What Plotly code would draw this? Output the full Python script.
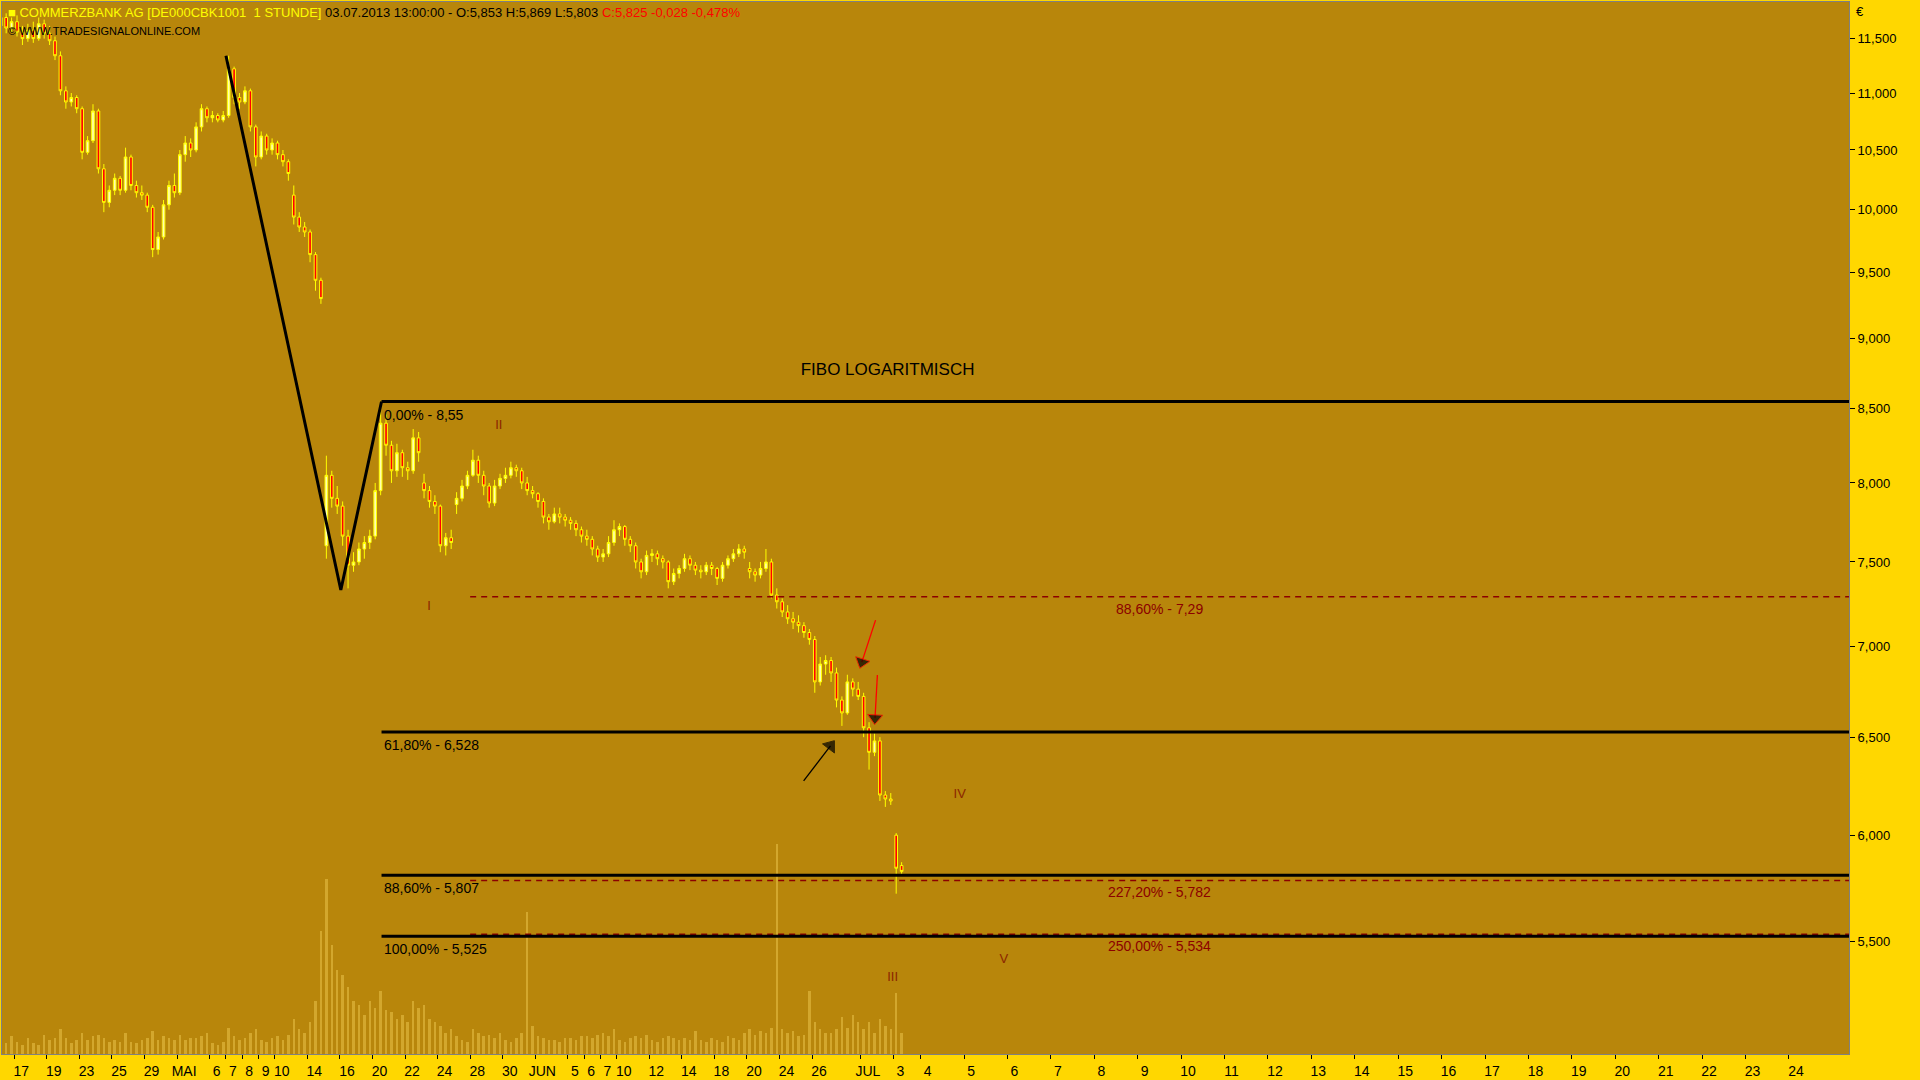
import numpy as np
import plotly.graph_objects as go
from datetime import datetime

# ---------------- data ----------------
trading_days = [
    "2013-04-16", "2013-04-17", "2013-04-18", "2013-04-19", "2013-04-22", "2013-04-23", "2013-04-24",
    "2013-04-25", "2013-04-26", "2013-04-29", "2013-04-30",
    "2013-05-02", "2013-05-03", "2013-05-06", "2013-05-07", "2013-05-08", "2013-05-09", "2013-05-10",
    "2013-05-13", "2013-05-14", "2013-05-15", "2013-05-16", "2013-05-17", "2013-05-20", "2013-05-21",
    "2013-05-22", "2013-05-23", "2013-05-24", "2013-05-27", "2013-05-28", "2013-05-29", "2013-05-30",
    "2013-05-31",
    "2013-06-03", "2013-06-04", "2013-06-05", "2013-06-06", "2013-06-07", "2013-06-10", "2013-06-11",
    "2013-06-12", "2013-06-13", "2013-06-14", "2013-06-17", "2013-06-18", "2013-06-19", "2013-06-20",
    "2013-06-21", "2013-06-24", "2013-06-25", "2013-06-26", "2013-06-27", "2013-06-28",
    "2013-07-01", "2013-07-02", "2013-07-03",
]

# three 3-hour candles per trading day (last day: two)
opens = [
    11.62, 11.70, 11.60,  11.66, 11.56, 11.50,  11.58, 11.50, 11.64,  11.55, 11.48, 11.34,
    11.02, 10.92, 10.96,  10.86, 10.48, 10.58,  10.84, 10.34, 10.06,  10.16, 10.26, 10.16,
    10.44, 10.20, 10.14,  10.12, 10.02, 9.68,   9.78, 10.04, 10.20,   10.14, 10.46, 10.56,
    10.50, 10.70, 10.86,  10.78, 10.80, 10.76,  10.80, 11.22, 10.96,  10.92, 11.02, 10.70,
    10.44, 10.62, 10.50,  10.56, 10.46, 10.40,  10.12, 9.94, 9.86,    9.82, 9.64, 9.44,
    7.60, 8.05, 7.90,     7.85, 7.66, 7.48,     7.50, 7.58, 7.62,     7.66, 7.95, 8.40,
    8.25, 8.08, 8.20,     8.10, 8.08, 8.30,     8.00, 7.95, 7.88,     7.85, 7.60, 7.65,
    7.86, 7.90, 7.98,     8.05, 8.15, 8.05,     7.98, 7.87, 7.98,     8.03, 8.05, 8.10,
    8.08, 8.00, 7.95,     7.93, 7.88, 7.78,     7.75, 7.80, 7.78,     7.76, 7.74, 7.70,
    7.66, 7.64, 7.58,     7.53, 7.55, 7.62,     7.70, 7.72, 7.64,     7.60, 7.50, 7.44,
    7.54, 7.55, 7.52,     7.50, 7.38, 7.43,     7.46, 7.52, 7.48,     7.45, 7.44, 7.48,
    7.46, 7.40, 7.48,     7.52, 7.55, 7.58,     7.46, 7.44, 7.42,     7.46, 7.50, 7.30,
    7.26, 7.20, 7.16,     7.14, 7.12, 7.08,     7.04, 6.80, 6.90,     6.92, 6.85, 6.70,
    6.63, 6.80, 6.76,     6.72, 6.55, 6.42,     6.48, 6.20, 6.18,     6.00, 5.853,
]
highs = [
    11.78, 11.74, 11.70,  11.72, 11.62, 11.64,  11.66, 11.70, 11.68,  11.62, 11.52, 11.38,
    11.06, 11.00, 10.98,  10.88, 10.62, 10.90,  10.86, 10.38, 10.20,  10.30, 10.28, 10.52,
    10.46, 10.24, 10.20,  10.14, 10.04, 9.82,   10.08, 10.24, 10.30,  10.50, 10.62, 10.60,
    10.74, 10.90, 10.88,  10.84, 10.82, 10.84,  11.34, 11.24, 11.00,  11.06, 11.04, 10.72,
    10.66, 10.64, 10.60,  10.58, 10.50, 10.42,  10.20, 9.98, 9.90,    9.84, 9.66, 9.46,
    8.18, 8.08, 7.98,     7.88, 7.70, 7.56,     7.62, 7.66, 7.70,     8.00, 8.55, 8.46,
    8.28, 8.26, 8.22,     8.14, 8.36, 8.34,     8.06, 7.98, 7.92,     7.86, 7.68, 7.70,
    7.94, 8.02, 8.08,     8.22, 8.18, 8.08,     8.00, 8.02, 8.06,     8.10, 8.14, 8.12,
    8.10, 8.04, 7.98,     7.94, 7.90, 7.80,     7.84, 7.84, 7.80,     7.78, 7.76, 7.72,
    7.70, 7.66, 7.60,     7.58, 7.66, 7.76,     7.74, 7.73, 7.66,     7.62, 7.52, 7.57,
    7.58, 7.57, 7.54,     7.51, 7.46, 7.48,     7.55, 7.54, 7.50,     7.48, 7.50, 7.50,
    7.47, 7.50, 7.54,     7.58, 7.61, 7.60,     7.50, 7.46, 7.50,     7.58, 7.52, 7.34,
    7.28, 7.24, 7.20,     7.18, 7.14, 7.10,     7.06, 6.94, 6.95,     6.94, 6.88, 6.72,
    6.84, 6.82, 6.80,     6.74, 6.58, 6.52,     6.50, 6.22, 6.21,     6.01, 5.869,
]
lows = [
    11.58, 11.55, 11.56,  11.52, 11.44, 11.47,  11.46, 11.48, 11.50,  11.44, 11.30, 10.98,
    10.86, 10.88, 10.82,  10.42, 10.46, 10.56,  10.30, 9.98, 10.02,   10.12, 10.12, 10.14,
    10.16, 10.10, 10.08,  9.98, 9.62, 9.64,     9.76, 10.00, 10.10,   10.12, 10.40, 10.44,
    10.48, 10.66, 10.74,  10.74, 10.74, 10.74,  10.78, 10.90, 10.86,  10.90, 10.66, 10.36,
    10.42, 10.46, 10.46,  10.42, 10.36, 10.24,  9.88, 9.82, 9.78,     9.58, 9.36, 9.26,
    7.52, 7.84, 7.80,     7.60, 7.34, 7.44,     7.48, 7.52, 7.58,     7.64, 7.92, 8.18,
    8.00, 8.04, 8.04,     8.02, 8.06, 8.14,     7.90, 7.84, 7.80,     7.56, 7.54, 7.58,
    7.80, 7.88, 7.96,     8.04, 8.00, 7.92,     7.84, 7.85, 7.96,     8.00, 8.03, 8.04,
    7.96, 7.92, 7.90,     7.84, 7.74, 7.70,     7.74, 7.74, 7.72,     7.70, 7.66, 7.62,
    7.60, 7.54, 7.50,     7.50, 7.53, 7.60,     7.66, 7.60, 7.56,     7.46, 7.40, 7.42,
    7.50, 7.48, 7.46,     7.34, 7.36, 7.40,     7.44, 7.45, 7.42,     7.40, 7.42, 7.42,
    7.36, 7.38, 7.46,     7.50, 7.53, 7.52,     7.40, 7.38, 7.40,     7.44, 7.28, 7.22,
    7.17, 7.13, 7.10,     7.08, 7.05, 7.01,     6.74, 6.78, 6.84,     6.80, 6.66, 6.56,
    6.62, 6.72, 6.70,     6.50, 6.33, 6.40,     6.17, 6.14, 6.15,     5.72, 5.803,
]
closes = [
    11.70, 11.60, 11.66,  11.56, 11.50, 11.58,  11.50, 11.64, 11.55,  11.48, 11.34, 11.02,
    10.92, 10.96, 10.86,  10.48, 10.58, 10.84,  10.34, 10.06, 10.16,  10.26, 10.16, 10.44,
    10.20, 10.14, 10.12,  10.02, 9.68, 9.78,    10.04, 10.20, 10.14,  10.46, 10.56, 10.50,
    10.70, 10.86, 10.78,  10.80, 10.76, 10.80,  11.22, 10.96, 10.92,  11.02, 10.70, 10.44,
    10.62, 10.50, 10.56,  10.46, 10.40, 10.30,  9.94, 9.86, 9.82,     9.64, 9.44, 9.30,
    8.05, 7.90, 7.85,     7.66, 7.48, 7.50,     7.58, 7.62, 7.66,     7.95, 8.40, 8.25,
    8.08, 8.20, 8.10,     8.08, 8.30, 8.20,     7.95, 7.88, 7.85,     7.60, 7.65, 7.62,
    7.90, 7.98, 8.05,     8.15, 8.05, 7.98,     7.87, 7.98, 8.03,     8.05, 8.10, 8.08,
    8.00, 7.95, 7.93,     7.88, 7.78, 7.75,     7.80, 7.78, 7.76,     7.74, 7.70, 7.66,
    7.64, 7.58, 7.53,     7.55, 7.62, 7.70,     7.72, 7.64, 7.60,     7.50, 7.44, 7.54,
    7.55, 7.52, 7.50,     7.38, 7.43, 7.46,     7.52, 7.48, 7.45,     7.44, 7.48, 7.46,
    7.40, 7.48, 7.52,     7.55, 7.58, 7.56,     7.44, 7.42, 7.46,     7.50, 7.30, 7.26,
    7.20, 7.16, 7.14,     7.12, 7.08, 7.04,     6.80, 6.90, 6.92,     6.85, 6.70, 6.63,
    6.80, 6.76, 6.72,     6.55, 6.42, 6.48,     6.20, 6.18, 6.17,     5.84, 5.825,
]
volumes = [
    8, 6, 10,   7, 5, 9,    6, 5, 11,   8, 9, 14,   9, 6, 8,    12, 8, 10,  11, 9, 7,
    8, 7, 12,   7, 6, 8,    9, 13, 8,   10, 9, 8,   11, 8, 9,   9, 10, 12,  6, 5, 7,
    15, 10, 8,  9, 12, 14,  8, 7, 9,    10, 8, 11,  20, 14, 12, 18, 30, 70,
    100, 62, 48, 45, 38, 30, 28, 22, 30, 26, 36, 25, 24, 20, 22, 18, 30, 26,
    28, 20, 18, 16, 12, 14, 10, 8, 7,   14, 12, 10, 11, 9, 12,  8, 7, 9,
    12, 81, 16, 10, 9, 8,   8, 7, 9,    9, 8, 10,   10, 9, 11,  12, 10, 14,
    8, 7, 9,    10, 9, 11,  8, 7, 9,    10, 9, 8,   9, 8, 13,   8, 7, 9,
    8, 7, 10,   9, 8, 12,   14, 11, 13, 12, 15, 120, 14, 12, 13, 10, 11, 36,
    18, 14, 12, 12, 14, 21, 15, 22, 18, 14, 18, 12, 20, 16, 14, 35, 12,
]

fib_levels = [8.55, 6.528, 5.807, 5.525]
fib_names = ["0,00%", "61,80%", "88,60%", "100,00%"]
ext_levels = [7.29, 5.782, 5.534]
ext_names = ["88,60%", "227,20%", "250,00%"]

zig_times = ["2013-05-07 09:00", "2013-05-16 09:30", "2013-05-20 14:00"]
zig_prices = [11.34, 7.33, 8.55]
ext_start = "2013-05-28 09:00"
ext_label_time = "2013-07-09 12:00"

wave_names = ["I", "II", "III", "IV", "V"]
wave_times = ["2013-05-23 13:15", "2013-05-29 15:50", "2013-07-02 17:30", "2013-07-04 21:36", "2013-07-05 22:00"]
wave_prices = [7.23, 8.38, 5.34, 6.20, 5.42]

fibo_title_time = "2013-07-02 14:45"
fibo_title_price = 8.77

arrows = [  # (tail time, tail price, tip time, tip price, line colour)
    ("2013-07-01 17:06", 7.152, "2013-07-01 09:30", 6.911, "#FF0000"),
    ("2013-07-02 09:06", 6.839, "2013-07-01 16:48", 6.602, "#FF0000"),
    ("2013-06-25 13:20", 6.272, "2013-06-27 10:10", 6.454, "#000000"),
]

tick_dates = [
    "2013-04-17", "2013-04-19", "2013-04-23", "2013-04-25", "2013-04-29", "2013-05-02", "2013-05-06",
    "2013-05-07", "2013-05-08", "2013-05-09", "2013-05-10", "2013-05-14", "2013-05-16", "2013-05-20",
    "2013-05-22", "2013-05-24", "2013-05-28", "2013-05-30", "2013-06-03", "2013-06-05", "2013-06-06",
    "2013-06-07", "2013-06-10", "2013-06-12", "2013-06-14", "2013-06-18", "2013-06-20", "2013-06-24",
    "2013-06-26", "2013-07-01", "2013-07-03", "2013-07-04", "2013-07-05", "2013-07-06", "2013-07-07",
    "2013-07-08", "2013-07-09", "2013-07-10", "2013-07-11", "2013-07-12", "2013-07-13", "2013-07-14",
    "2013-07-15", "2013-07-16", "2013-07-17", "2013-07-18", "2013-07-19", "2013-07-20", "2013-07-21",
    "2013-07-22", "2013-07-23", "2013-07-24",
]
tick_labels = [
    "17", "19", "23", "25", "29", "MAI", "6", "7", "8", "9", "10", "14", "16", "20", "22", "24", "28",
    "30", "JUN", "5", "6", "7", "10", "12", "14", "18", "20", "24", "26", "JUL", "3", "4", "5", "6",
    "7", "8", "9", "10", "11", "12", "13", "14", "15", "16", "17", "18", "19", "20", "21", "22", "23", "24",
]
price_ticks = [5.5, 6.0, 6.5, 7.0, 7.5, 8.0, 8.5, 9.0, 9.5, 10.0, 10.5, 11.0, 11.5]

# ---------------- helpers ----------------
BARS_PER_DAY = 9
day_index = {d: i for i, d in enumerate(trading_days)}
session_end = datetime(2013, 7, 3, 14, 0)
session_end_bar = (len(trading_days) - 2) * BARS_PER_DAY + 5


def to_bar(ts):
    if " " in ts:
        t = datetime.strptime(ts, "%Y-%m-%d %H:%M")
    elif ts in day_index:
        t = datetime.strptime(ts, "%Y-%m-%d").replace(hour=9)
    else:
        t = datetime.strptime(ts, "%Y-%m-%d")
    d = t.strftime("%Y-%m-%d")
    if d in day_index and t < session_end:
        return (day_index[d] - 1) * BARS_PER_DAY + (t.hour + t.minute / 60 - 9)
    return session_end_bar + (t - session_end).total_seconds() / 3600


def fmt(v):
    return str(v).replace(".", ",")


candle_x = [(i // 3 - 1) * BARS_PER_DAY + (i % 3) * 3 + 1.5 for i in range(len(closes))]

NARROW = "Liberation Sans Narrow, Liberation Sans, Arial, sans-serif"
SANS = "Liberation Sans, Arial, sans-serif"
DARKRED = "#8B0000"
WAVE = "#8B2500"
X_END = 1030

fig = go.Figure()

# volume (linear axis y)
fig.add_trace(go.Bar(x=candle_x, y=volumes, width=1.4,
                     marker=dict(color="rgba(238,200,80,0.5)", line=dict(width=0)),
                     yaxis="y", hoverinfo="skip"))

# candles (log axis y2)
fig.add_trace(go.Candlestick(
    x=candle_x, open=opens, high=highs, low=lows, close=closes, yaxis="y2",
    increasing=dict(line=dict(color="#FFFF00", width=1), fillcolor="#FFFFB0"),
    decreasing=dict(line=dict(color="#FFFF00", width=1), fillcolor="#FF0000"),
    whiskerwidth=0, hoverinfo="skip"))

# zigzag
fig.add_trace(go.Scatter(x=[to_bar(t) for t in zig_times], y=zig_prices, mode="lines", yaxis="y2",
                         line=dict(color="black", width=3), hoverinfo="skip"))

fib_x0 = to_bar(zig_times[-1])
ext_x0 = to_bar(ext_start)
for lvl in ext_levels:
    fig.add_trace(go.Scatter(x=[ext_x0, X_END], y=[lvl, lvl], mode="lines", yaxis="y2",
                             line=dict(color=DARKRED, width=1.5, dash="6px,5px"), hoverinfo="skip"))
for lvl in fib_levels:
    fig.add_trace(go.Scatter(x=[fib_x0, X_END], y=[lvl, lvl], mode="lines", yaxis="y2",
                             line=dict(color="black", width=3), hoverinfo="skip"))

# wave labels
fig.add_trace(go.Scatter(x=[to_bar(t) for t in wave_times], y=wave_prices, mode="text", yaxis="y2",
                         text=wave_names, textposition="middle center",
                         textfont=dict(family=NARROW, size=13, color=WAVE), hoverinfo="skip"))
fig.add_trace(go.Scatter(x=[to_bar(fibo_title_time)], y=[fibo_title_price], mode="text", yaxis="y2",
                         text=["FIBO LOGARITMISCH"], textposition="middle center",
                         textfont=dict(family=NARROW, size=17, color="black"), hoverinfo="skip"))

# arrows
for t0, p0, t1, p1, col in arrows:
    fig.add_trace(go.Scatter(x=[to_bar(t0), to_bar(t1)], y=[p0, p1], mode="lines+markers", yaxis="y2",
                             line=dict(color=col, width=1.3),
                             marker=dict(symbol="triangle-up", size=[0, 13], angleref="previous",
                                         color="black", line=dict(color=col, width=1)),
                             hoverinfo="skip"))

# header texts
o_, h_, l_, c_ = opens[-1], highs[-1], lows[-1], closes[-1]
chg = c_ - o_
pct = chg / o_ * 100
header = (
    '<span style="color:#FFFF00">■ COMMERZBANK AG [DE000CBK1001  1 STUNDE]</span> '
    f'<span style="color:#000000">03.07.2013 13:00:00 - O:{fmt(o_)} H:{fmt(h_)} L:{fmt(l_)}</span> '
    f'<span style="color:#FF0000">C:{fmt(c_)} {chg:.3f} {pct:.3f}%</span>'.replace("-0.", "-0,")
)
annotations = [
    dict(xref="paper", yref="paper", x=0.002, y=1, xanchor="left", yanchor="top", yshift=-1,
         text=header, showarrow=False, font=dict(family=NARROW, size=13, color="black")),
    dict(xref="paper", yref="paper", x=0.002, y=1, xanchor="left", yanchor="top", yshift=-21,
         text="© WWW.TRADESIGNALONLINE.COM", showarrow=False,
         font=dict(family=NARROW, size=11, color="black")),
    dict(xref="paper", yref="paper", x=1, y=1, xanchor="left", yanchor="top", xshift=5, yshift=0,
         text="€", showarrow=False, font=dict(family=SANS, size=13, color="black")),
]
# fibonacci level labels (annotations on log axis take log10 positions)
for n, v in zip(fib_names, fib_levels):
    annotations.append(dict(xref="x", yref="y2", x=fib_x0, y=np.log10(v), xanchor="left", yanchor="top",
                            yshift=-3, text=f"{n} - {fmt(v)}", showarrow=False,
                            font=dict(family=NARROW, size=14, color="black")))
xl = to_bar(ext_label_time)
for n, v in zip(ext_names, ext_levels):
    annotations.append(dict(xref="x", yref="y2", x=xl, y=np.log10(v), xanchor="center", yanchor="top",
                            yshift=-2, text=f"{n} - {fmt(v)}", showarrow=False,
                            font=dict(family=NARROW, size=14, color=DARKRED)))

fig.update_layout(
    width=1920, height=1080,
    margin=dict(l=1, r=71, t=1, b=23, pad=0),
    paper_bgcolor="#FFD700", plot_bgcolor="#B8860B",
    showlegend=False, bargap=0,
    annotations=annotations,
    xaxis=dict(range=[-6.8, 1014.2], tickvals=[to_bar(d) for d in tick_dates], ticktext=tick_labels,
               ticks="outside", ticklen=4, tickcolor="black", tickwidth=1, ticklabelshift=7,
               tickfont=dict(family=NARROW, size=14, color="black"),
               showgrid=False, zeroline=False, showline=True, linecolor="#808080", mirror=True,
               rangeslider=dict(visible=False), anchor="y"),
    yaxis=dict(range=[0, 600], visible=False, showgrid=False, zeroline=False),
    yaxis2=dict(type="log", overlaying="y", side="right", anchor="x",
                range=[np.log10(5.018), np.log10(11.849)],
                tickvals=price_ticks, ticktext=[f"{v:.3f}".replace(".", ",") for v in price_ticks],
                ticks="outside", ticklen=5, tickcolor="black",
                tickfont=dict(family=SANS, size=13, color="black"),
                showgrid=False, zeroline=False, showline=True, linecolor="#808080", mirror=True),
)

fig.write_html("out.html", config={"displayModeBar": False},
               post_script="document.body.style.margin='0';document.body.style.padding='0';"
                           "document.body.style.overflow='hidden';")
